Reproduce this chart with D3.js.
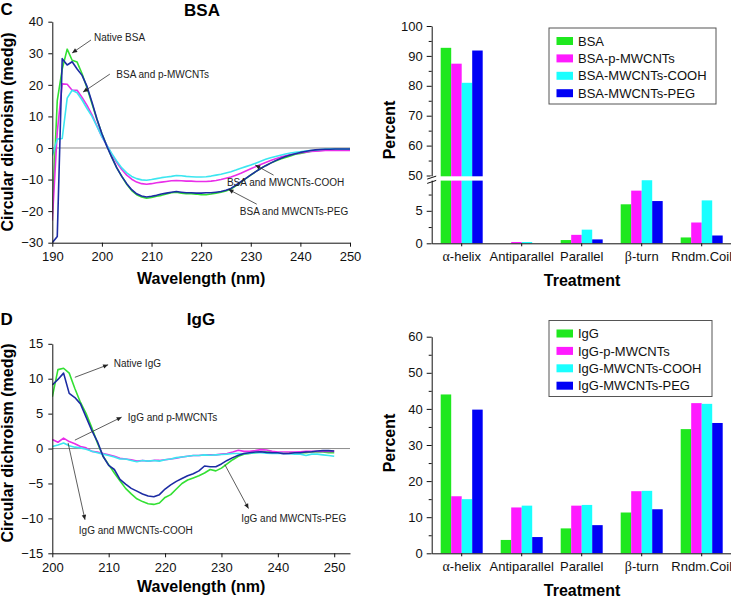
<!DOCTYPE html>
<html><head><meta charset="utf-8">
<script src="https://cdn.jsdelivr.net/npm/d3@7/dist/d3.min.js"></script>
<style>
body{margin:0;background:#fff;}
svg{display:block;font-family:"Liberation Sans",Arial,Helvetica,sans-serif;}
</style></head><body>
<svg id="chart" width="731" height="599"></svg>
<script>
// ---------------- DATA ----------------
const bsaWavelength = d3.range(190, 251);
const bsaNative = [-21,15,25,31.3,27.8,27.2,23.5,19,14,9,
 4.5,0.7,-3,-6.3,-9,-11.5,-13.5,-14.8,-15.5,-15.9,
 -15.7,-15.3,-15,-14.6,-14.2,-14,-14.3,-14.5,-14.5,-14.6,
 -14.8,-14.8,-14.6,-14.3,-14,-13.6,-13,-12,-10.8,-9.7,
 -8.6,-7.5,-6.5,-5.6,-4.8,-4.1,-3.5,-3,-2.5,-2,
 -1.7,-1.4,-1.1,-0.9,-0.7,-0.5,-0.4,-0.4,-0.4,-0.4,
 -0.4];
const bsaPMWCNT = [-23,5,20.3,20.2,18.3,18.3,16,13.5,10.5,7,
 3.5,0.8,-2,-4.6,-6.8,-8.6,-9.9,-10.8,-11.3,-11.5,
 -11.3,-11,-10.8,-10.6,-10.4,-10.3,-10.4,-10.5,-10.5,-10.6,
 -10.6,-10.6,-10.5,-10.3,-10,-9.6,-9.2,-8.6,-8,-7.3,
 -6.6,-5.9,-5.2,-4.6,-4,-3.4,-2.9,-2.5,-2.1,-1.8,
 -1.5,-1.3,-1.1,-1,-0.9,-0.8,-0.8,-0.8,-0.8,-0.8,
 -0.8];
const bsaCOOH = [-2.4,2.8,3,15.8,18.3,17.5,15.2,12.5,10,6.8,
 3.6,0.8,-1.8,-4.2,-6.3,-7.9,-9,-9.7,-10.1,-10.2,
 -10,-9.7,-9.4,-9.2,-9,-8.7,-8.8,-9,-9.1,-9.2,
 -9.2,-9.1,-8.9,-8.6,-8.3,-7.9,-7.5,-7,-6.4,-5.9,
 -5.4,-4.8,-4.2,-3.6,-3.1,-2.7,-2.3,-1.9,-1.6,-1.4,
 -1.2,-1,-0.8,-0.7,-0.5,-0.4,-0.3,-0.3,-0.3,-0.3,
 -0.3];
const bsaPEG = [-30,-28,28.3,26.3,27.3,25,23,19.5,14.5,9.2,
 4.5,0.5,-3,-6.3,-9,-11.3,-13.2,-14.5,-15.2,-15.5,
 -15.3,-15,-14.6,-14.3,-14,-13.8,-14,-14.2,-14.2,-14.3,
 -14.3,-14.2,-14.2,-14,-13.8,-13.4,-12.8,-11.8,-10.7,-9.6,
 -8.5,-7.5,-6.5,-5.6,-4.8,-4,-3.3,-2.7,-2.2,-1.8,
 -1.4,-1.1,-0.8,-0.6,-0.5,-0.4,-0.4,-0.3,-0.3,-0.3,
 -0.3];

const iggWavelength = d3.range(200, 251);
const iggNative = [7.4,11.3,11.5,10.8,8.6,6.6,5,3,0.8,-1.1,
 -2.3,-3.5,-4.6,-5.7,-6.5,-7.2,-7.6,-7.9,-8,-7.8,
 -7,-6.6,-5.8,-5,-4.5,-4.2,-3.9,-3.5,-3,-3.2,
 -2.8,-2.2,-1.6,-1.1,-0.8,-0.7,-0.6,-0.5,-0.5,-0.5,
 -0.6,-0.6,-0.6,-0.6,-0.6,-0.6,-0.5,-0.5,-0.5,-0.6,
 -0.6];
const iggPMWCNT = [1.3,0.9,1.5,1,0.7,0.3,0.1,-0.4,-0.5,-0.7,
 -0.9,-1.1,-1.4,-1.5,-1.6,-1.8,-1.7,-1.8,-1.7,-1.7,
 -1.6,-1.5,-1.4,-1.2,-1.1,-1,-1,-0.9,-0.9,-0.9,
 -0.8,-0.7,-0.5,-0.25,-0.4,-0.4,-0.3,-0.15,-0.2,-0.4,
 -0.5,-0.5,-0.5,-0.5,-0.45,-0.4,-0.4,-0.4,-0.4,-0.4,
 -0.4];
const iggCOOH = [0.3,0.5,0.8,0.4,0.2,0.1,-0.1,-0.4,-0.6,-0.8,
 -1,-1.2,-1.5,-1.5,-1.7,-1.9,-1.7,-1.8,-1.7,-1.8,
 -1.6,-1.5,-1.3,-1.2,-1.1,-1,-1,-0.9,-0.95,-0.9,
 -0.85,-0.8,-0.7,-0.7,-0.75,-0.65,-0.6,-0.6,-0.65,-0.7,
 -0.65,-0.7,-0.75,-0.8,-0.8,-1,-0.8,-0.8,-0.9,-1,
 -1.1];
const iggPEG = [9.1,9.9,10.8,7.9,7.3,6.4,4.5,2.6,1,-1.1,
 -2.4,-3,-4.4,-5.1,-5.7,-6.1,-6.5,-6.8,-6.9,-6.6,
 -5.8,-5.2,-4.7,-4.3,-3.9,-3.6,-3.2,-2.5,-2.6,-2.6,
 -2.2,-1.7,-1.3,-0.95,-0.7,-0.6,-0.5,-0.45,-0.55,-0.6,
 -0.6,-0.75,-0.7,-0.6,-0.6,-0.5,-0.45,-0.35,-0.3,-0.3,
 -0.35];

const bsaCdTicksX = [190,200,210,220,230,240,250];
const bsaCdTicksY = [-30,-20,-10,0,10,20,30,40];
const iggCdTicksX = [200,210,220,230,240,250];
const iggCdTicksY = [-15,-10,-5,0,5,10,15];

const structCategories = ["α-helix","Antiparallel","Parallel","β-turn","Rndm.Coil"];
const bsaSeriesNames = ["BSA","BSA-p-MWCNTs","BSA-MWCNTs-COOH","BSA-MWCNTs-PEG"];
const bsaPctNative = [92.7, 0, 0.5, 6.0, 0.9];
const bsaPctP      = [87.4, 0.2, 1.3, 8.1, 3.2];
const bsaPctCOOH   = [81.0, 0.2, 2.1, 9.7, 6.6];
const bsaPctPEG    = [91.8, 0, 0.6, 6.5, 1.2];
const iggSeriesNames = ["IgG","IgG-p-MWCNTs","IgG-MWCNTs-COOH","IgG-MWCNTs-PEG"];
const iggPctNative = [44.0, 3.7, 6.9, 11.3, 34.4];
const iggPctP      = [15.8, 12.7, 13.2, 17.2, 41.6];
const iggPctCOOH   = [15.0, 13.2, 13.4, 17.3, 41.4];
const iggPctPEG    = [39.8, 4.5, 7.8, 12.2, 36.1];
const bsaPctTicks = [0,5,50,60,70,80,90,100];
const bsaPctMinor = [2.5,7.5,55,65,75,85,95];
const iggPctTicks = [0,10,20,30,40,50,60];
const iggPctMinor = [5,15,25,35,45,55];

// ---------------- STYLE ----------------
const lineColors = ["#33e033","#e92ee9","#3ce6f0","#1c2ca3"];
const barColors  = ["#1fe81f","#ff1aff","#1affff","#0000f5"];
const FONT = '"Liberation Sans",Arial,Helvetica,sans-serif';

const svg = d3.select("#chart");
const defs = svg.append("defs");
defs.append("marker").attr("id","arrowhead").attr("viewBox","0 0 10 10")
  .attr("refX",10).attr("refY",5).attr("markerWidth",7).attr("markerHeight",5)
  .attr("markerUnits","userSpaceOnUse").attr("orient","auto")
  .append("path").attr("d","M0,0.5 L10,5 L0,9.5 z").attr("fill","#222");

function styleAxis(a, fs){
  a.attr("font-family", null).attr("font-size", null);
  a.selectAll("text").attr("font-size", fs).attr("fill","#111").style("font-family", FONT);
  a.selectAll("path,line").attr("stroke","#111").attr("stroke-width",1);
}

function drawCD(cfg){
  const g = svg.append("g");
  const x = d3.scaleLinear().domain(cfg.xDomain).range(cfg.xRange);
  const y = d3.scaleLinear().domain(cfg.yDomain).range(cfg.yRange);
  defs.append("clipPath").attr("id", cfg.id + "clip").append("rect")
    .attr("x", cfg.xRange[0]).attr("y", cfg.yRange[1])
    .attr("width", cfg.xRange[1]-cfg.xRange[0]).attr("height", cfg.yRange[0]-cfg.yRange[1]);
  g.append("line").attr("x1", cfg.xRange[0]).attr("x2", cfg.xRange[1])
    .attr("y1", y(0)).attr("y2", y(0)).attr("stroke","#8c8c8c").attr("stroke-width",1);
  const line = d3.line().x(d=>x(d[0])).y(d=>y(d[1]));
  cfg.series.forEach((vals,i)=>{
    g.append("path").datum(cfg.wl.map((w,j)=>[w, vals[j]]))
      .attr("d", line).attr("fill","none").attr("stroke", lineColors[i])
      .attr("stroke-width",1.6).attr("stroke-linejoin","round")
      .attr("clip-path", `url(#${cfg.id}clip)`);
  });
  const ax = g.append("g").attr("transform",`translate(0,${cfg.yRange[0]})`)
    .call(d3.axisBottom(x).tickValues(cfg.xTicks).tickSize(4).tickSizeOuter(0).tickPadding(5));
  const ay = g.append("g").attr("transform",`translate(${cfg.xRange[0]},0)`)
    .call(d3.axisLeft(y).tickValues(cfg.yTicks).tickSize(4).tickSizeOuter(0).tickPadding(5));
  styleAxis(ax, 13); styleAxis(ay, 13);
  // annotations
  cfg.notes.forEach(n=>{
    g.append("line").attr("x1", x(n.from[0])).attr("y1", y(n.from[1]))
      .attr("x2", x(n.to[0])).attr("y2", y(n.to[1]))
      .attr("stroke","#333").attr("stroke-width",0.8).attr("marker-end","url(#arrowhead)");
    g.append("text").attr("x", x(n.at[0])).attr("y", y(n.at[1]))
      .attr("font-size",10).attr("fill","#222").style("font-family",FONT).text(n.label);
  });
  // titles
  g.append("text").attr("x",0.5).attr("y",cfg.letterY).attr("font-size",17).attr("font-weight","bold")
    .style("font-family",FONT).text(cfg.letter);
  g.append("text").attr("x",cfg.titleX).attr("y",cfg.titleY).attr("text-anchor","middle")
    .attr("font-size",17).attr("font-weight","bold").style("font-family",FONT).text(cfg.title);
  g.append("text").attr("text-anchor","middle").attr("font-size",16).attr("font-weight","bold")
    .style("font-family",FONT)
    .attr("transform",`translate(13,${cfg.yLabelY}) rotate(-90)`).text("Circular dichroism (medg)");
  g.append("text").attr("x",(cfg.xRange[0]+cfg.xRange[1])/2).attr("y",cfg.xLabelY)
    .attr("text-anchor","middle").attr("font-size",16).attr("font-weight","bold")
    .style("font-family",FONT).text("Wavelength (nm)");
}

function drawBars(cfg){
  const g = svg.append("g");
  const x0 = d3.scaleBand().domain(structCategories).range([431.7, 731.7]).paddingInner(0.3).paddingOuter(0.15);
  const x1 = d3.scaleBand().domain(d3.range(cfg.series.length)).range([0, x0.bandwidth()]);
  const y = d3.scaleLinear().domain(cfg.yDomain).range(cfg.yRange);
  const base = y(0);
  cfg.series.forEach((vals,i)=>{
    g.selectAll(null).data(vals.map((v,j)=>({v, c:structCategories[j]}))).enter().append("rect")
      .attr("x", d=>x0(d.c)+x1(i)).attr("width", x1.bandwidth())
      .attr("y", d=>y(d.v)).attr("height", d=>base - y(d.v))
      .attr("fill", barColors[i]);
  });
  const ax = g.append("g").attr("transform",`translate(0,${base})`)
    .call(d3.axisBottom(x0).tickSize(3).tickSizeOuter(0).tickPadding(5));
  styleAxis(ax, 13);
  ax.selectAll(".tick text").each(function(d){
    if (/^[αβ]/.test(d)){
      const t = d3.select(this); t.text(null);
      t.append("tspan").style("font-family",'"Liberation Serif","Times New Roman",serif').attr("font-size",14).text(d[0]);
      t.append("tspan").text(d.slice(1));
    }
  });
  const axisX = 431.7;
  const ay = g.append("g").attr("transform",`translate(${axisX},0)`)
    .call(d3.axisLeft(y).tickValues(cfg.ticks).tickSize(5).tickSizeOuter(0).tickPadding(4));
  styleAxis(ay, 13);
  const am = g.append("g").attr("transform",`translate(${axisX},0)`)
    .call(d3.axisLeft(y).tickValues(cfg.minor).tickSize(3).tickSizeOuter(0).tickFormat(""));
  styleAxis(am, 13); am.select(".domain").remove();
  if (cfg.breakGap){
    const [b0,b1] = cfg.breakGap;
    g.append("rect").attr("x", axisX-1.5).attr("y", b0).attr("width", x0("α-helix")+x0.bandwidth()-axisX+3)
      .attr("height", b1-b0).attr("fill","#fff");
    [b0+1.3, b1+1.3].forEach(yy=>{
      g.append("line").attr("x1",axisX-4.5).attr("y1",yy+1.5).attr("x2",axisX+4.5).attr("y2",yy-1.5)
        .attr("stroke","#111").attr("stroke-width",1);
    });
  }
  // legend
  const lg = g.append("g");
  lg.append("rect").attr("x",cfg.legend.x).attr("y",cfg.legend.y).attr("width",cfg.legend.w).attr("height",cfg.legend.h)
    .attr("fill","#fff").attr("stroke","#555").attr("stroke-width",1);
  cfg.names.forEach((nm,i)=>{
    const cy = cfg.legend.y + 13 + i*17.4;
    lg.append("rect").attr("x",cfg.legend.x+7.5).attr("y",cy-4).attr("width",16.5).attr("height",8).attr("fill",barColors[i]);
    lg.append("text").attr("x",cfg.legend.x+29).attr("y",cy).attr("dy","0.36em").attr("font-size",13)
      .attr("fill","#111").style("font-family",FONT).text(nm);
  });
  g.append("text").attr("text-anchor","middle").attr("font-size",16).attr("font-weight","bold")
    .style("font-family",FONT).attr("transform",`translate(395,${cfg.yLabelY}) rotate(-90)`).text("Percent");
  g.append("text").attr("x",582).attr("y",base+43).attr("text-anchor","middle").attr("font-size",16)
    .attr("font-weight","bold").style("font-family",FONT).text("Treatment");
}

// ---------------- PANELS ----------------
drawCD({
  id:"bsa", wl: bsaWavelength, series:[bsaNative, bsaPMWCNT, bsaCOOH, bsaPEG],
  xDomain:[190,250], xRange:[52.3,350], yDomain:[-30,40], yRange:[242.7,21.7],
  xTicks: bsaCdTicksX, yTicks: bsaCdTicksY,
  letter:"C", letterY:15, title:"BSA", titleX:202, titleY:16, yLabelY:132, xLabelY:284,
  notes:[
    {label:"Native BSA", at:[198.4,33.9], from:[197.8,34.2], to:[194.0,30.1]},
    {label:"BSA and p-MWCNTs", at:[202.9,22.3], from:[201.6,23.4], to:[196.2,17.7]},
    {label:"BSA and MWCNTs-COOH", at:[225.2,-12.1], from:[234.6,-8.6], to:[230.9,-5.4]},
    {label:"BSA and MWCNTs-PEG", at:[227.8,-21.1], from:[231.2,-17.8], to:[225.5,-13.1]}
  ]
});
drawCD({
  id:"igg", wl: iggWavelength, series:[iggNative, iggPMWCNT, iggCOOH, iggPEG],
  xDomain:[200,252.8], xRange:[52.3,350], yDomain:[-15,15], yRange:[553.3,343.8],
  xTicks: iggCdTicksX, yTicks: iggCdTicksY,
  letter:"D", letterY:325, title:"IgG", titleX:201, titleY:325, yLabelY:443, xLabelY:592,
  notes:[
    {label:"Native IgG", at:[210.9,11.7], from:[204.0,10.2], to:[209.9,12.0]},
    {label:"IgG and p-MWCNTs", at:[213.4,3.9], from:[204.0,1.2], to:[212.3,4.5]},
    {label:"IgG and MWCNTs-COOH", at:[204.7,-12.2], from:[202.8,0.8], to:[205.8,-10.2]},
    {label:"IgG and MWCNTs-PEG", at:[233.5,-10.5], from:[230.6,-2.3], to:[234.8,-8.6]}
  ]
});
drawBars({
  series:[bsaPctNative, bsaPctP, bsaPctCOOH, bsaPctPEG], names: bsaSeriesNames,
  yDomain:[0,10,50,100], yRange:[243.3,178.3,175.5,26],
  ticks: bsaPctTicks, minor: bsaPctMinor, breakGap:[176.3,180.6],
  legend:{x:549,y:28,w:167,h:76}, yLabelY:130
});
drawBars({
  series:[iggPctNative, iggPctP, iggPctCOOH, iggPctPEG], names: iggSeriesNames,
  yDomain:[0,60], yRange:[553.3,336.7],
  ticks: iggPctTicks, minor: iggPctMinor, breakGap:null,
  legend:{x:549,y:320.5,w:163,h:76}, yLabelY:443
});
</script>
</body></html>
